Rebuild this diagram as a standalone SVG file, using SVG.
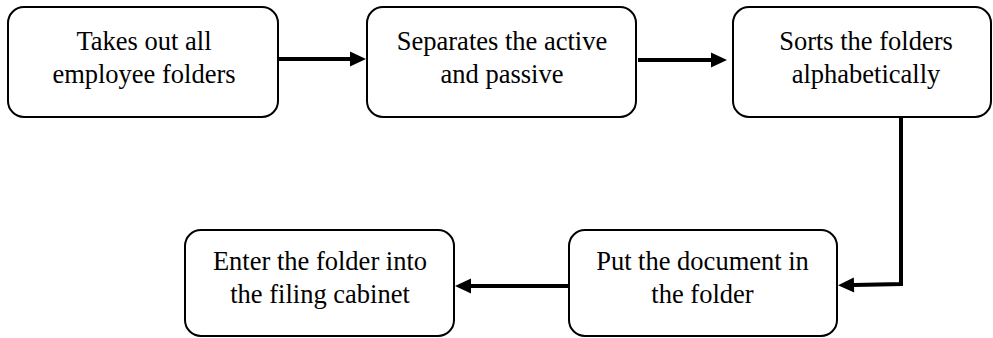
<svg xmlns="http://www.w3.org/2000/svg" width="993" height="338" viewBox="0 0 993 338">
  <style>
    .box { fill: #ffffff; stroke: #000000; stroke-width: 2; }
    .label { font-family: "Liberation Serif", "Times New Roman", serif; font-size: 26.5px; fill: #000000; text-anchor: middle; }
    .link { fill: none; stroke: #000000; stroke-width: 4; stroke-linejoin: miter; marker-end: url(#head); }
  </style>
  <defs>
    <marker id="head" markerUnits="userSpaceOnUse" markerWidth="17" markerHeight="16" refX="0" refY="7.5" orient="auto" overflow="visible">
      <path d="M0,0 L16,7.5 L0,15 Z" fill="#000000"/>
    </marker>
  </defs>
  <rect width="993" height="338" fill="#ffffff"/>

  <g id="connectors">
    <path class="link" d="M279,59 L350,59"/>
    <path class="link" d="M638,60 L711,60"/>
    <path class="link" d="M901,117 L901,284 L854,285"/>
    <path class="link" d="M568,286 L471,286"/>
  </g>

  <g id="node-take-out">
    <rect class="box" x="8" y="7" width="270" height="110" rx="16" ry="16"/>
    <text class="label" x="144" y="50">Takes out all</text>
    <text class="label" x="144" y="82.5">employee folders</text>
  </g>

  <g id="node-separate">
    <rect class="box" x="367" y="7" width="269" height="110" rx="16" ry="16"/>
    <text class="label" x="502" y="50">Separates the active</text>
    <text class="label" x="502" y="82.5">and passive</text>
  </g>

  <g id="node-sort">
    <rect class="box" x="733" y="7" width="258" height="110" rx="16" ry="16"/>
    <text class="label" x="866" y="50">Sorts the folders</text>
    <text class="label" x="866" y="82.5">alphabetically</text>
  </g>

  <g id="node-put-document">
    <rect class="box" x="569" y="230" width="268" height="106" rx="16" ry="16"/>
    <text class="label" x="702.5" y="270">Put the document in</text>
    <text class="label" x="702.5" y="302.5">the folder</text>
  </g>

  <g id="node-enter-cabinet">
    <rect class="box" x="185" y="230" width="269" height="106" rx="16" ry="16"/>
    <text class="label" x="320" y="270">Enter the folder into</text>
    <text class="label" x="320" y="302.5">the filing cabinet</text>
  </g>
</svg>
